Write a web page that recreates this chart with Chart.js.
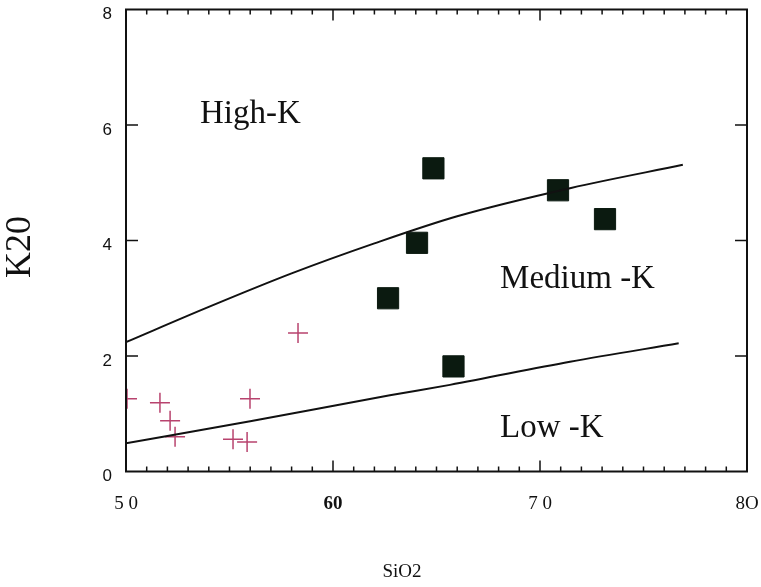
<!DOCTYPE html>
<html>
<head>
<meta charset="utf-8">
<script src="https://cdn.jsdelivr.net/npm/chart.js@4.4.1/dist/chart.umd.min.js"></script>
<style>
  html, body { margin: 0; padding: 0; background: #fff; }
  #wrap { width: 761px; height: 587px; }
</style>
</head>
<body>
<div id="wrap"><canvas id="myChart" width="761" height="587"></canvas></div>
<script>
// ===== data =====
var xTicks = [50, 60, 70, 80];
var xTickLabels = ['5 0', '60', '7 0', '8O'];
var yTicks = [0, 2, 4, 6, 8];

// boundary High-K / Medium-K
var highLineX = [50, 54, 58, 62, 66, 71.5, 76.9];
var highLineY = [2.24, 2.85, 3.43, 3.95, 4.42, 4.91, 5.31];
// boundary Medium-K / Low-K
var lowLineX = [50, 56, 62.75, 65.65, 71.45, 76.7];
var lowLineY = [0.49, 0.87, 1.32, 1.5, 1.9, 2.22];

// filled squares
var squareX = [62.66, 64.06, 64.85, 65.82, 70.87, 73.14];
var squareY = [3.0, 3.96, 5.25, 1.82, 4.87, 4.37];

// crosses
var crossX = [50.05, 51.64, 52.13, 52.37, 55.17, 55.85, 55.99, 58.31];
var crossY = [1.26, 1.19, 0.88, 0.6, 0.56, 0.51, 1.26, 2.4];

// field names (placed in data units)
var fieldNames = ['High-K', 'Medium -K', 'Low -K'];
var fieldX = [53.57, 68.07, 68.07];
var fieldY = [6.03, 3.18, 0.6];

function toPoints(xs, ys) {
  return xs.map(function (x, i) { return { x: x, y: ys[i] }; });
}

// frame, inward ticks, labels
var framePlugin = {
  id: 'framePlugin',
  afterDraw: function (chart) {
    var c = chart.ctx, a = chart.chartArea;
    var xs = chart.scales.x, ys = chart.scales.y;
    c.save();
    c.strokeStyle = '#111';
    c.lineWidth = 2;
    c.strokeRect(a.left, a.top, a.right - a.left, a.bottom - a.top);

    c.lineWidth = 1.5;
    c.beginPath();
    for (var v = 50; v <= 80; v++) {
      var px = xs.getPixelForValue(v);
      var len = v % 10 === 0 ? 11 : 5;
      c.moveTo(px, a.bottom); c.lineTo(px, a.bottom - len);
      c.moveTo(px, a.top); c.lineTo(px, a.top + len);
    }
    [2, 4, 6].forEach(function (t) {
      var py = ys.getPixelForValue(t);
      c.moveTo(a.left, py); c.lineTo(a.left + 12, py);
      c.moveTo(a.right, py); c.lineTo(a.right - 12, py);
    });
    c.stroke();

    c.fillStyle = '#111';
    c.font = '33px "Liberation Serif", "Times New Roman", serif';
    c.textBaseline = 'alphabetic';
    c.textAlign = 'left';
    fieldNames.forEach(function (n, i) {
      c.fillText(n, xs.getPixelForValue(fieldX[i]), ys.getPixelForValue(fieldY[i]));
    });

    // axis titles
    c.textAlign = 'center';
    c.textBaseline = 'middle';
    c.font = '19px "Liberation Serif", "Times New Roman", serif';
    c.fillText('SiO2', 402, 572);
    c.save();
    c.translate(21, 247);
    c.rotate(-Math.PI / 2);
    c.font = '36px "Liberation Serif", "Times New Roman", serif';
    c.fillText('K20', 0, 0);
    c.restore();
    c.restore();
  }
};

var config = {
  type: 'scatter',
  data: {
    datasets: [
      {
        label: 'High-K boundary',
        data: toPoints(highLineX, highLineY),
        showLine: true,
        borderColor: '#111',
        borderWidth: 2,
        pointRadius: 0,
        cubicInterpolationMode: 'monotone'
      },
      {
        label: 'Low-K boundary',
        data: toPoints(lowLineX, lowLineY),
        showLine: true,
        borderColor: '#111',
        borderWidth: 2,
        pointRadius: 0,
        cubicInterpolationMode: 'monotone'
      },
      {
        label: 'squares',
        data: toPoints(squareX, squareY),
        pointStyle: 'rect',
        pointRadius: 15,
        backgroundColor: '#0b1a10',
        borderColor: '#0b1a10',
        borderWidth: 1
      },
      {
        label: 'crosses',
        data: toPoints(crossX, crossY),
        pointStyle: 'cross',
        pointRadius: 10,
        borderColor: '#b8436e',
        borderWidth: 1.5
      }
    ]
  },
  options: {
    responsive: false,
    animation: false,
    layout: { autoPadding: false, padding: { top: 9.5, right: 14, left: 0, bottom: 0 } },
    plugins: {
      legend: { display: false },
      tooltip: { enabled: false }
    },
    scales: {
      x: {
        type: 'linear',
        min: 50,
        max: 80,
        grid: { display: false, drawTicks: false },
        border: { display: false },
        afterBuildTicks: function (s) {
          s.ticks = xTicks.map(function (v) { return { value: v }; });
        },
        afterFit: function (s) {
          s.height = 115.5;
          s.paddingLeft = 0; s.paddingRight = 0;
        },
        ticks: {
          padding: 21,
          color: '#111',
          maxRotation: 0,
          callback: function (value) {
            var i = xTicks.indexOf(value);
            return i >= 0 ? xTickLabels[i] : '';
          },
          font: function (ctx) {
            var bold = ctx.tick && ctx.tick.value === 60;
            return { family: '"Liberation Serif", "Times New Roman", serif', size: 19, weight: bold ? 'bold' : 'normal' };
          }
        }
      },
      y: {
        type: 'linear',
        min: 0,
        max: 8,
        grid: { display: false, drawTicks: false },
        border: { display: false },
        afterBuildTicks: function (s) {
          s.ticks = yTicks.map(function (v) { return { value: v }; });
        },
        afterFit: function (s) {
          s.width = 126;
          s.paddingTop = 0; s.paddingBottom = 0;
        },
        ticks: {
          padding: 14,
          labelOffset: 5,
          color: '#111',
          font: { family: '"Liberation Sans", Arial, sans-serif', size: 17 }
        }
      }
    }
  },
  plugins: [framePlugin]
};

var ctx = document.getElementById('myChart').getContext('2d');
new Chart(ctx, config);
</script>
</body>
</html>
